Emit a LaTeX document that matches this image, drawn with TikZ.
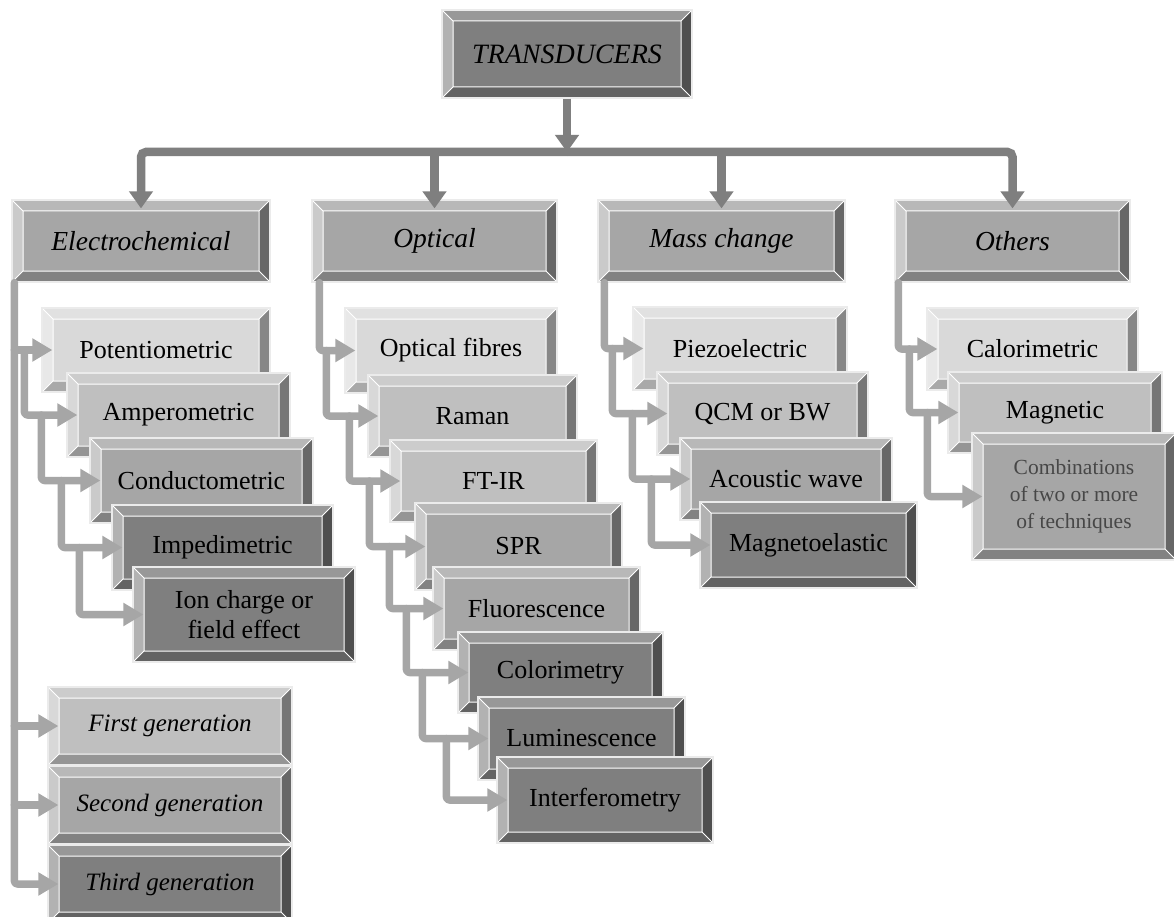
\documentclass[tikz,border=0pt]{standalone}
\usepackage{fontspec}
\setmainfont{Liberation Serif}
\usetikzlibrary{arrows.meta}
\definecolor{gA}{HTML}{D9D9D9}
\definecolor{gB}{HTML}{BFBFBF}
\definecolor{gC}{HTML}{A6A6A6}
\definecolor{gD}{HTML}{7F7F7F}
\tikzset{
  bevel/.style={rectangle, inner sep=0pt, align=center, fill=#1, draw=white!92!black, line width=1.2pt,
    font=\fontsize{26}{30}\selectfont,
    path picture={
      \path (path picture bounding box.north west) coordinate (pnw)
            (path picture bounding box.north east) coordinate (pne)
            (path picture bounding box.south west) coordinate (psw)
            (path picture bounding box.south east) coordinate (pse);
      \path ([shift={(11pt,-11pt)}]pnw) coordinate (qnw)
            ([shift={(-11pt,-11pt)}]pne) coordinate (qne)
            ([shift={(11pt,11pt)}]psw) coordinate (qsw)
            ([shift={(-11pt,11pt)}]pse) coordinate (qse);
      \fill[#1!80!white] (pnw) -- (pne) -- (qne) -- (qnw) -- cycle;
      \fill[#1!60!white] (pnw) -- (qnw) -- (qsw) -- (psw) -- cycle;
      \fill[#1!78!black] (psw) -- (qsw) -- (qse) -- (pse) -- cycle;
      \fill[#1!62!black] (pse) -- (qse) -- (qne) -- (pne) -- cycle;
      \draw[white, line width=1pt] (qnw) rectangle (qse) (pnw) -- (qnw) (pne) -- (qne) (psw) -- (qsw) (pse) -- (qse);
    }},
  head/.style={bevel=gC, font=\fontsize{27.5}{30}\selectfont\itshape},
  gen/.style={bevel=#1, font=\fontsize{25}{30}\selectfont\itshape, minimum width=244pt, minimum height=78pt},
  mainarrow/.style={draw=gD, line width=8.5pt, -{Triangle[width=23pt,length=17pt]}, shorten >=-9pt},
  subarrow/.style={draw=gC, line width=7.5pt, line cap=round, line join=round, rounded corners=3pt,
    -{Triangle[width=22pt,length=20pt]}, shorten >=-11pt},
}
\begin{document}
\begin{tikzpicture}[x=1pt, y=-1pt]
\useasboundingbox[fill=white] (0,0) rectangle (1174,917);
% top and first level
\node[bevel=gD, font=\fontsize{28}{30}\selectfont\itshape, minimum width=250pt, minimum height=88pt] (trans) at (567,54) {TRANSDUCERS};
\node[head, minimum width=258pt, minimum height=82pt] (elec) at (141,241) {Electrochemical};
\node[head, minimum width=245pt, minimum height=82pt] (opt) at (434.5,241) {Optical};
\node[head, minimum width=247pt, minimum height=82pt] (mass) at (721.5,241) {Mass change};
\node[head, minimum width=235pt, minimum height=82pt] (oth) at (1012.5,241) {Others};
% electrochemical
\node[bevel=gA, minimum width=228pt, minimum height=84pt] (pot) at (156,350) {Potentiometric};
\node[bevel=gB, minimum width=223pt, minimum height=84pt] (amp) at (178.5,415) {Amperometric};
\node[bevel=gC, minimum width=223pt, minimum height=85pt] (con) at (201.5,480.5) {Conductometric};
\node[bevel=gD, minimum width=221pt, minimum height=85pt] (imp) at (222.5,547.5) {Impedimetric};
\node[bevel=gD, minimum width=222pt, minimum height=95pt] (ion) at (244,614.5) {Ion charge or\\field effect};
\node[gen=gB] (gen1) at (170,726) {First generation};
\node[gen=gC] (gen2) at (170,805) {Second generation};
\node[gen=gD] (gen3) at (170,884) {Third generation};
% optical
\node[bevel=gA, minimum width=212pt, minimum height=85pt] (fib) at (451,350.5) {Optical fibres};
\node[bevel=gB, minimum width=209pt, minimum height=82pt] (ram) at (472.5,416) {Raman};
\node[bevel=gB, minimum width=207pt, minimum height=82pt] (ftir) at (493.5,481) {FT-IR};
\node[bevel=gC, minimum width=207pt, minimum height=87pt] (spr) at (518.5,546.5) {SPR};
\node[bevel=gC, minimum width=207pt, minimum height=83pt] (flu) at (536.5,608.5) {Fluorescence};
\node[bevel=gD, minimum width=205pt, minimum height=81pt] (col) at (560.5,672.5) {Colorimetry};
\node[bevel=gD, minimum width=207pt, minimum height=83pt] (lum) at (581.5,738.5) {Luminescence};
\node[bevel=gD, minimum width=216pt, minimum height=86pt] (intf) at (605,800) {Interferometry};
% mass change
\node[bevel=gA, minimum width=214pt, minimum height=83pt] (piezo) at (740,348.5) {Piezoelectric};
\node[bevel=gB, minimum width=211pt, minimum height=83pt] (qcm) at (762.5,413.5) {QCM or BW};
\node[bevel=gC, minimum width=212pt, minimum height=82pt] (acw) at (786,479) {Acoustic wave};
\node[bevel=gD, minimum width=217pt, minimum height=86pt] (mel) at (808.5,545) {Magnetoelastic};
% others
\node[bevel=gA, minimum width=211pt, minimum height=82pt] (calo) at (1032.5,349) {Calorimetric};
\node[bevel=gB, minimum width=214pt, minimum height=81pt] (magn) at (1055,412.5) {Magnetic};
\node[bevel=gC, font=\fontsize{21.5}{27}\selectfont, text=black!72, minimum width=204pt, minimum height=127pt] (comb) at (1074,496.5) {Combinations\\of two or more\\of techniques};
% bus
\coordinate (bus) at (567,152);
\draw[mainarrow, shorten >=0pt] (trans.south) -- (bus);
\draw[mainarrow, rounded corners=5pt] (bus) -| (elec.north);
\draw[mainarrow, rounded corners=5pt] (bus) -| (oth.north);
\draw[mainarrow] (opt.north |- bus) -- (opt.north);
\draw[mainarrow] (mass.north |- bus) -- (mass.north);
% electrochemical branches
\coordinate (et) at ([xshift=3pt]elec.south west);
\draw[subarrow] (et) |- (gen3.west);
\draw[subarrow] (et |- pot.west) -- (pot.west);
\draw[subarrow] (et |- gen1.west) -- (gen1.west);
\draw[subarrow] (et |- gen2.west) -- (gen2.west);
\draw[subarrow] ([xshift=-17pt]pot.west) |- (amp.west);
\draw[subarrow] ([xshift=-25pt]amp.west) |- (con.west);
\draw[subarrow] ([xshift=-28pt]con.west) |- (imp.west);
\draw[subarrow] ([xshift=-32pt]imp.west) |- (ion.west);
% optical branches
\coordinate (ot) at ([xshift=8pt]opt.south west);
\draw[subarrow] (ot) |- (fib.west);
\draw[subarrow] ([xshift=-18pt]fib.west) |- (ram.west);
\draw[subarrow] ([xshift=-18pt]ram.west) |- (ftir.west);
\draw[subarrow] ([xshift=-20pt]ftir.west) |- (spr.west);
\draw[subarrow] ([xshift=-25pt]spr.west) |- (flu.west);
\draw[subarrow] ([xshift=-26pt]flu.west) |- (col.west);
\draw[subarrow] ([xshift=-35pt]col.west) |- (lum.west);
\draw[subarrow] ([xshift=-31pt]lum.west) |- (intf.west);
% mass change branches
\coordinate (mt) at ([xshift=7pt]mass.south west);
\draw[subarrow] (mt) |- (piezo.west);
\draw[subarrow] ([xshift=-20pt]piezo.west) |- (qcm.west);
\draw[subarrow] ([xshift=-24pt]qcm.west) |- (acw.west);
\draw[subarrow] ([xshift=-28pt]acw.west) |- (mel.west);
% others branches
\coordinate (nt) at ([xshift=4pt]oth.south west);
\draw[subarrow] (nt) |- (calo.west);
\draw[subarrow] ([xshift=-17pt]calo.west) |- (magn.west);
\draw[subarrow] ([xshift=-20pt]magn.west) |- (comb.west);
\end{tikzpicture}
\end{document}
